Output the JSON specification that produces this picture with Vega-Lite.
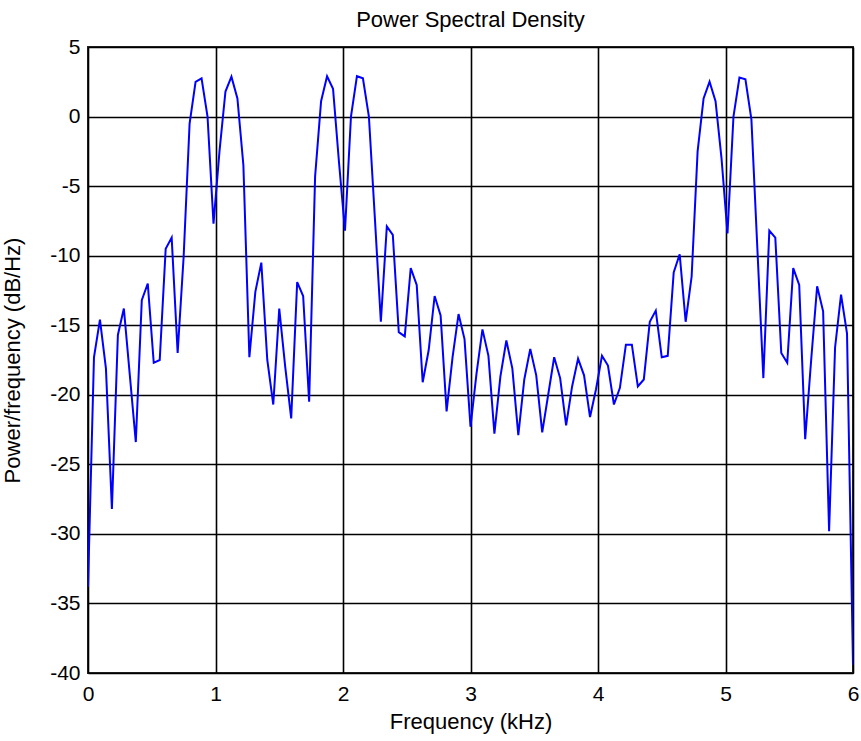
{
  "$schema": "https://vega.github.io/schema/vega-lite/v6.json",
  "width": 765,
  "height": 626,
  "autosize": {"type": "none"},
  "padding": {"left": 88, "top": 47, "right": 8, "bottom": 68},
  "background": "white",
  "title": {"text": "Power Spectral Density", "fontSize": 22, "font": "Liberation Sans", "fontWeight": "normal", "color": "black", "anchor": "middle", "offset": 4},
  "config": {
    "view": {"stroke": "#262626", "strokeWidth": 2},
    "axis": {"domain": false, "ticks": false, "grid": true, "gridColor": "black", "gridOpacity": 1, "gridWidth": 1.6, "labelFont": "Liberation Sans", "labelFontSize": 21, "labelColor": "black", "labelFlush": false, "labelOverlap": false, "titleFont": "Liberation Sans", "titleFontSize": 22, "titleFontWeight": "normal", "titleColor": "black"}
  },
  "data": {"values": [
    {"f":0,"p":-33.8},{"f":0.046875,"p":-17.3},{"f":0.09375,"p":-14.6},{"f":0.140625,"p":-18.1},{"f":0.1875,"p":-28.2},
    {"f":0.234375,"p":-15.7},{"f":0.28125,"p":-13.8},{"f":0.328125,"p":-18.6},{"f":0.375,"p":-23.4},{"f":0.421875,"p":-13.2},
    {"f":0.46875,"p":-12.0},{"f":0.515625,"p":-17.7},{"f":0.5625,"p":-17.5},{"f":0.609375,"p":-9.5},{"f":0.65625,"p":-8.7},
    {"f":0.703125,"p":-17.0},{"f":0.75,"p":-10.1},{"f":0.796875,"p":-0.5},{"f":0.84375,"p":2.5},{"f":0.890625,"p":2.75},
    {"f":0.9375,"p":0.0},{"f":0.984375,"p":-7.7},{"f":1.03125,"p":-2.5},{"f":1.078125,"p":1.8},{"f":1.125,"p":2.87},
    {"f":1.171875,"p":1.3},{"f":1.21875,"p":-3.5},{"f":1.265625,"p":-17.3},{"f":1.3125,"p":-12.6},{"f":1.359375,"p":-10.5},
    {"f":1.40625,"p":-17.5},{"f":1.453125,"p":-20.7},{"f":1.5,"p":-13.8},{"f":1.546875,"p":-18.0},{"f":1.59375,"p":-21.7},
    {"f":1.640625,"p":-11.9},{"f":1.6875,"p":-12.9},{"f":1.734375,"p":-20.5},{"f":1.78125,"p":-4.3},{"f":1.828125,"p":1.1},
    {"f":1.875,"p":2.9},{"f":1.921875,"p":2.0},{"f":1.96875,"p":-3.3},{"f":2.015625,"p":-8.2},{"f":2.0625,"p":0.0},
    {"f":2.109375,"p":2.9},{"f":2.15625,"p":2.75},{"f":2.203125,"p":0.0},{"f":2.25,"p":-7.3},{"f":2.296875,"p":-14.75},
    {"f":2.34375,"p":-7.9},{"f":2.390625,"p":-8.5},{"f":2.4375,"p":-15.5},{"f":2.484375,"p":-15.8},{"f":2.53125,"p":-10.9},
    {"f":2.578125,"p":-12.1},{"f":2.625,"p":-19.1},{"f":2.671875,"p":-16.8},{"f":2.71875,"p":-12.9},{"f":2.765625,"p":-14.3},
    {"f":2.8125,"p":-21.2},{"f":2.859375,"p":-17.3},{"f":2.90625,"p":-14.2},{"f":2.953125,"p":-16.0},{"f":3.0,"p":-22.3},
    {"f":3.046875,"p":-18.5},{"f":3.09375,"p":-15.3},{"f":3.140625,"p":-17.2},{"f":3.1875,"p":-22.8},{"f":3.234375,"p":-18.7},
    {"f":3.28125,"p":-16.1},{"f":3.328125,"p":-18.1},{"f":3.375,"p":-22.9},{"f":3.421875,"p":-18.9},{"f":3.46875,"p":-16.7},
    {"f":3.515625,"p":-18.6},{"f":3.5625,"p":-22.7},{"f":3.609375,"p":-20.0},{"f":3.65625,"p":-17.3},{"f":3.703125,"p":-18.8},
    {"f":3.75,"p":-22.2},{"f":3.796875,"p":-19.4},{"f":3.84375,"p":-17.4},{"f":3.890625,"p":-18.6},{"f":3.9375,"p":-21.6},
    {"f":3.984375,"p":-19.6},{"f":4.03125,"p":-17.2},{"f":4.078125,"p":-17.9},{"f":4.125,"p":-20.7},{"f":4.171875,"p":-19.5},
    {"f":4.21875,"p":-16.4},{"f":4.265625,"p":-16.4},{"f":4.3125,"p":-19.4},{"f":4.359375,"p":-18.9},{"f":4.40625,"p":-14.75},
    {"f":4.453125,"p":-13.95},{"f":4.5,"p":-17.3},{"f":4.546875,"p":-17.2},{"f":4.59375,"p":-11.2},{"f":4.640625,"p":-9.9},
    {"f":4.6875,"p":-14.75},{"f":4.734375,"p":-11.5},{"f":4.78125,"p":-2.5},{"f":4.828125,"p":1.3},{"f":4.875,"p":2.5},
    {"f":4.921875,"p":1.1},{"f":4.96875,"p":-3.0},{"f":5.015625,"p":-8.4},{"f":5.0625,"p":0.0},{"f":5.109375,"p":2.8},
    {"f":5.15625,"p":2.68},{"f":5.203125,"p":-0.2},{"f":5.25,"p":-9.5},{"f":5.296875,"p":-18.8},{"f":5.34375,"p":-8.2},
    {"f":5.390625,"p":-8.7},{"f":5.4375,"p":-17.0},{"f":5.484375,"p":-17.7},{"f":5.53125,"p":-10.9},{"f":5.578125,"p":-12.1},
    {"f":5.625,"p":-23.2},{"f":5.671875,"p":-17.5},{"f":5.71875,"p":-12.2},{"f":5.765625,"p":-14.0},{"f":5.8125,"p":-29.8},
    {"f":5.859375,"p":-16.6},{"f":5.90625,"p":-12.8},{"f":5.953125,"p":-15.6},{"f":6.0,"p":-39.4}
  ]},
  "mark": {"type": "line", "color": "#0000ff", "strokeWidth": 2, "clip": true},
  "encoding": {
    "x": {"field": "f", "type": "quantitative", "scale": {"domain": [0, 6], "nice": false, "zero": false},
      "axis": {"title": "Frequency (kHz)", "values": [0,1,2,3,4,5,6], "labelExpr": "'' + datum.value", "labelPadding": 10, "titlePadding": 7}},
    "y": {"field": "p", "type": "quantitative", "scale": {"domain": [-40, 5], "nice": false, "zero": false},
      "axis": {"title": "Power/frequency (dB/Hz)", "values": [-40,-35,-30,-25,-20,-15,-10,-5,0,5], "labelExpr": "'' + datum.value", "labelPadding": 8, "titlePadding": 25}}
  }
}
